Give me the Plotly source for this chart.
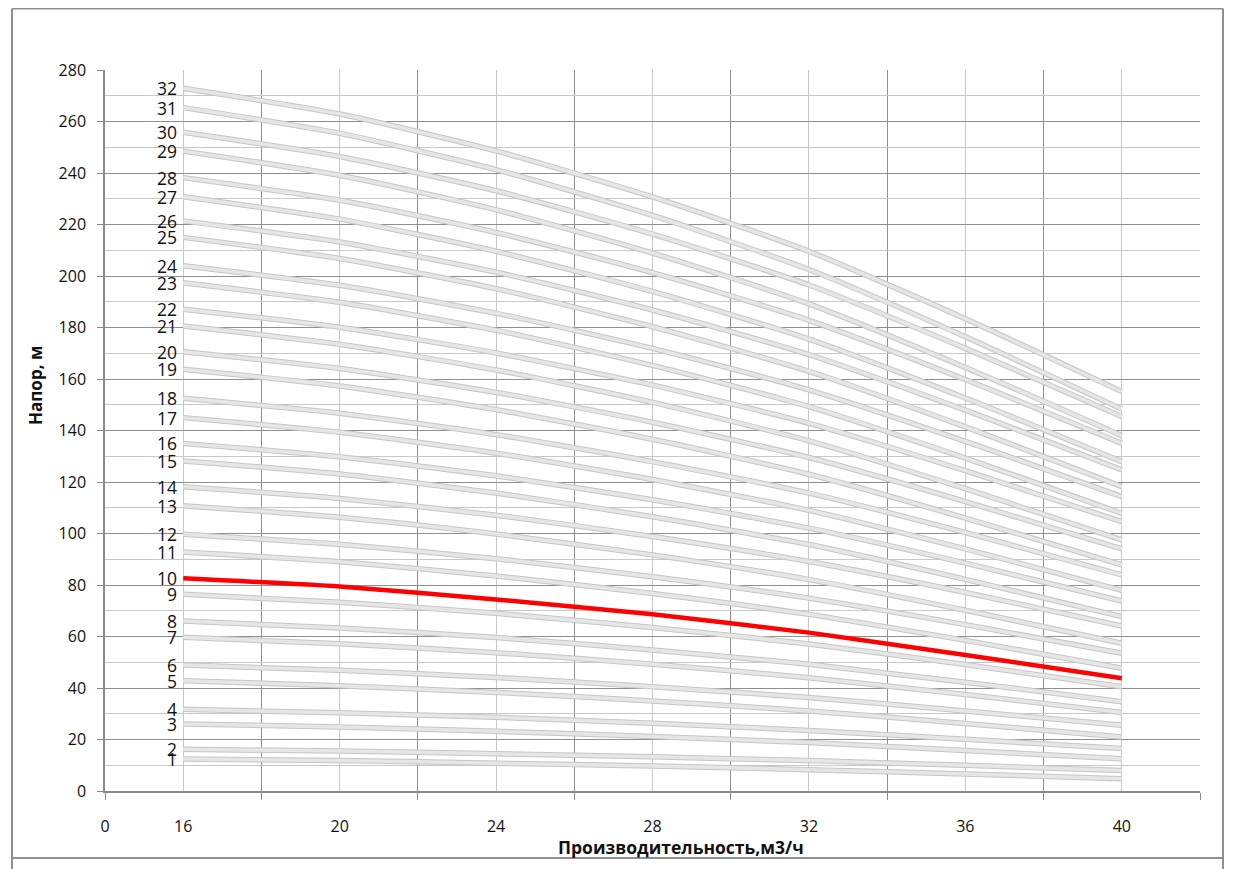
import plotly.graph_objects as go

# Flow rate, m3/h
Q = [16, 20, 24, 28, 32, 36, 40]

# Head (m) per number of stages
H1 = [12.4, 11.8, 10.8, 9.7, 8.3, 6.6, 4.8]
H2 = [16.2, 15.5, 14.5, 13.3, 11.8, 10.0, 8.0]
H3 = [26.0, 24.9, 23.2, 21.2, 18.8, 15.7, 12.5]
H4 = [31.7, 30.4, 28.6, 26.3, 23.5, 20.1, 16.5]
H5 = [42.8, 40.9, 38.3, 35.0, 31.1, 26.2, 21.0]
H6 = [48.9, 46.9, 44.1, 40.5, 36.3, 31.1, 25.5]
H7 = [59.7, 57.2, 53.7, 49.2, 44.0, 37.5, 30.5]
H8 = [66.0, 63.3, 59.6, 54.8, 49.2, 42.2, 34.7]
H9 = [76.4, 73.3, 69.0, 63.5, 57.1, 49.1, 40.5]
H10 = [82.6, 79.4, 74.4, 68.6, 61.5, 52.8, 43.8]
H11 = [92.8, 89.0, 83.5, 76.7, 68.6, 58.5, 47.7]
H12 = [99.7, 95.8, 90.2, 83.2, 74.9, 64.6, 53.5]
H13 = [110.8, 106.3, 99.8, 91.7, 82.1, 70.2, 57.4]
H14 = [118.2, 113.6, 107.1, 98.8, 89.1, 77.1, 64.1]
H15 = [128.2, 123.1, 115.7, 106.5, 95.7, 82.2, 67.7]
H16 = [135.0, 129.8, 122.4, 113.1, 102.1, 88.5, 73.8]
H17 = [145.0, 139.3, 131.2, 121.0, 109.0, 94.0, 77.9]
H18 = [152.5, 146.7, 138.4, 127.9, 115.7, 100.4, 83.9]
H19 = [163.8, 157.3, 148.1, 136.6, 123.0, 106.0, 87.8]
H20 = [170.6, 164.1, 154.8, 143.2, 129.5, 112.4, 94.0]
H21 = [180.6, 173.5, 163.5, 150.9, 136.0, 117.4, 97.5]
H22 = [187.1, 180.1, 170.1, 157.6, 142.8, 124.4, 104.6]
H23 = [197.4, 189.8, 178.9, 165.3, 149.3, 129.3, 107.8]
H24 = [204.0, 196.4, 185.5, 171.9, 155.8, 135.8, 114.3]
H25 = [215.0, 206.8, 195.1, 180.3, 163.0, 141.4, 118.2]
H26 = [221.4, 213.2, 201.5, 186.8, 169.5, 147.9, 124.7]
H27 = [230.8, 222.1, 209.6, 194.0, 175.5, 152.6, 127.9]
H28 = [238.2, 229.4, 216.9, 201.3, 182.8, 159.8, 135.0]
H29 = [248.5, 239.1, 225.7, 208.9, 189.2, 164.5, 138.0]
H30 = [255.8, 246.4, 233.1, 216.3, 196.5, 171.9, 145.4]
H31 = [265.4, 255.4, 241.3, 223.5, 202.5, 176.4, 148.3]
H32 = [272.9, 262.9, 248.6, 230.7, 209.6, 183.4, 155.1]

stage_labels = [str(i) for i in range(1, 33)]
highlight_stage = "10"

x_tick_vals = [14, 16, 20, 24, 28, 32, 36, 40]
x_tick_text = ["0", "16", "20", "24", "28", "32", "36", "40"]
x_major_grid = [14, 18, 22, 26, 30, 34, 38, 42]

y_title = "Напор, м"
x_title = "Производительность,м3/ч"

curves = [H1, H2, H3, H4, H5, H6, H7, H8, H9, H10, H11, H12, H13, H14, H15, H16,
          H17, H18, H19, H20, H21, H22, H23, H24, H25, H26, H27, H28, H29, H30, H31, H32]

FONT = "'Open Sans', Lato, sans-serif"
fig = go.Figure()

for lab, h in zip(stage_labels, curves):
    if lab == highlight_stage:
        continue
    fig.add_trace(go.Scatter(x=Q, y=h, mode="lines", line=dict(color="#c6c6c6", width=5.5, shape="spline", smoothing=0.6),
                             hoverinfo="skip", showlegend=False))
    fig.add_trace(go.Scatter(x=Q, y=h, mode="lines", line=dict(color="#e6e6e6", width=3.5, shape="spline", smoothing=0.6),
                             name=lab, showlegend=False))

for lab, h in zip(stage_labels, curves):
    if lab == highlight_stage:
        fig.add_trace(go.Scatter(x=Q, y=h, mode="lines", line=dict(color="#ff0000", width=4.5, shape="spline", smoothing=0.6),
                                 name=lab, showlegend=False))

annotations = []
for lab, h in zip(stage_labels, curves):
    annotations.append(dict(x=Q[0], y=h[0], xref="x", yref="y", text=lab, showarrow=False,
                            xanchor="right", yanchor="middle", xshift=-4,
                            font=dict(family=FONT, size=17.5, color="#111111")))

# page layout (browser body has an 8px margin)
OFF = 8
L, R, T, B = 105, 1200, 70, 791   # plot area in page pixels
W, Hh = R - L, B - T
def px(x):
    return (x - L) / W
def py(y):
    return (B - y) / Hh

annotations.append(dict(x=px(35), y=py(386), xref="paper", yref="paper", text="<b>" + y_title + "</b>",
                        showarrow=False, textangle=-90, xanchor="center", yanchor="middle",
                        font=dict(family=FONT, size=17, color="#111111")))
annotations.append(dict(x=px(681), y=py(847), xref="paper", yref="paper", text="<b>" + x_title + "</b>",
                        showarrow=False, xanchor="center", yanchor="middle",
                        font=dict(family=FONT, size=17.5, color="#111111")))

border = "#8f8f8f"
shapes = [
    dict(type="line", xref="paper", yref="paper", x0=px(12), x1=px(1223), y0=py(8.5), y1=py(8.5), line=dict(color=border, width=2)),
    dict(type="line", xref="paper", yref="paper", x0=px(12), x1=px(1223), y0=py(858), y1=py(858), line=dict(color=border, width=2)),
    dict(type="line", xref="paper", yref="paper", x0=px(12), x1=px(12), y0=py(8.5), y1=py(869), line=dict(color=border, width=2)),
    dict(type="line", xref="paper", yref="paper", x0=px(1223), x1=px(1223), y0=py(8.5), y1=py(869), line=dict(color=border, width=2)),
]

fig.update_layout(
    width=1234 - OFF, height=869 - OFF,
    margin=dict(l=L - OFF, r=1234 - R, t=T - OFF, b=869 - B),
    paper_bgcolor="white", plot_bgcolor="white",
    showlegend=False,
    annotations=annotations,
    shapes=shapes,
    font=dict(family=FONT, size=16, color="#111111"),
)

fig.update_xaxes(
    range=[14, 42], tickmode="array", tickvals=x_tick_vals, ticktext=x_tick_text,
    ticks="", showgrid=True, gridcolor="#c8c8c8", gridwidth=1,
    showline=True, linecolor="#8a8a8a", linewidth=1.5, mirror=False, zeroline=False,
    tickfont=dict(family=FONT, size=16, color="#111111"), ticklabelstandoff=20,
    minor=dict(tickmode="array", tickvals=x_major_grid, ticks="outside", ticklen=7, tickcolor="#8a8a8a",
               showgrid=True, gridcolor="#8f8f8f", gridwidth=1),
)
fig.update_yaxes(
    range=[0, 280], tickmode="linear", tick0=0, dtick=20,
    ticks="outside", ticklen=6, tickcolor="#8a8a8a",
    showgrid=True, gridcolor="#8f8f8f", gridwidth=1,
    showline=True, linecolor="#8a8a8a", linewidth=1.5, zeroline=False,
    tickfont=dict(family=FONT, size=16, color="#111111"), ticklabelstandoff=8,
    minor=dict(dtick=10, showgrid=True, gridcolor="#c8c8c8", gridwidth=1, ticks=""),
)

fig.write_html("out.html")
